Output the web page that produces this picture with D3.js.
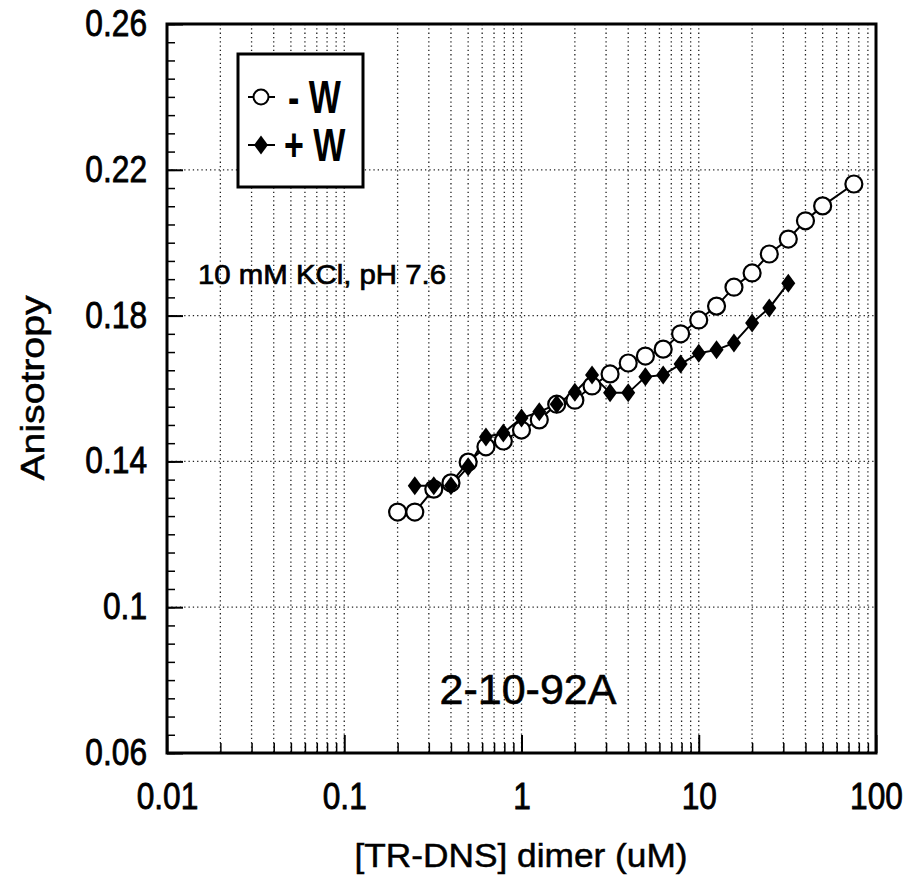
<!DOCTYPE html>
<html>
<head>
<meta charset="utf-8">
<script src="https://cdn.jsdelivr.net/npm/d3@7"></script>
<style>
  body { margin: 0; background: #fff; }
  svg { display: block; font-family: "Liberation Sans", Arial, Helvetica, sans-serif; }
</style>
</head>
<body>
<svg id="chart" width="909" height="876"></svg>
<script>
// data
const concMinusW = [0.2, 0.25, 0.32, 0.4, 0.5, 0.63, 0.79, 1.0, 1.26, 1.58, 2.0, 2.5, 3.16, 4.0, 5.0, 6.3, 7.9, 10, 12.6, 15.8, 20, 25, 32, 40, 50, 75];
const anisoMinusW = [0.1261, 0.1261, 0.1324, 0.1341, 0.1398, 0.1440, 0.1456, 0.1486, 0.1514, 0.1557, 0.1568, 0.1607, 0.1640, 0.1670, 0.1689, 0.1708, 0.1750, 0.1788, 0.1826, 0.1878, 0.1917, 0.1969, 0.2010, 0.2060, 0.2101, 0.2161];

const concPlusW = [0.25, 0.32, 0.4, 0.5, 0.63, 0.79, 1.0, 1.26, 1.58, 2.0, 2.5, 3.16, 4.0, 5.0, 6.3, 7.9, 10, 12.6, 15.8, 20, 25, 32];
const anisoPlusW = [0.1333, 0.1333, 0.1333, 0.1385, 0.1467, 0.1478, 0.1519, 0.1536, 0.1557, 0.1590, 0.1637, 0.1588, 0.1588, 0.1632, 0.1637, 0.1667, 0.1697, 0.1706, 0.1725, 0.1780, 0.1821, 0.1889];

const xTickValues = [0.01, 0.1, 1, 10, 100];
const xTickLabels = ["0.01", "0.1", "1", "10", "100"];
const yTickValues = [0.06, 0.1, 0.14, 0.18, 0.22, 0.26];
const yTickLabels = ["0.06", "0.1", "0.14", "0.18", "0.22", "0.26"];
const legendLabels = ["- W", "+ W"];

const svg = d3.select("#chart");
const margin = { left: 167, top: 24, right: 876, bottom: 753 };

const x = d3.scaleLog().domain([0.01, 100]).range([margin.left, margin.right]);
const y = d3.scaleLinear().domain([0.06, 0.26]).range([margin.bottom, margin.top]);

// minor log positions 0.02..0.09, 0.2..0.9 ...
const xMinor = [];
for (let e = -2; e < 2; e++) {
  for (let m = 2; m <= 9; m++) xMinor.push(m * Math.pow(10, e));
}
const xGrid = xMinor.concat([0.1, 1, 10]);
const yMinor = d3.range(0, 41).map(i => 0.06 + i * 0.005);

// squeeze labels a bit, the scan font is narrower than Arial
function narrow(sel, k) {
  sel.each(function() {
    const w = this.getComputedTextLength();
    d3.select(this).attr("textLength", w * k).attr("lengthAdjust", "spacingAndGlyphs");
  });
}

const grid = svg.append("g").attr("class", "grid");

grid.selectAll("line.vg")
  .data(xGrid)
  .enter().append("line")
  .attr("class", "vg")
  .attr("x1", d => x(d)).attr("x2", d => x(d))
  .attr("y1", margin.top).attr("y2", margin.bottom)
  .attr("stroke", "#222")
  .attr("stroke-width", 1.3)
  .attr("stroke-dasharray", "1.3,3");

grid.selectAll("line.hg")
  .data(yTickValues.slice(1, -1))
  .enter().append("line")
  .attr("class", "hg")
  .attr("x1", margin.left).attr("x2", margin.right)
  .attr("y1", d => y(d)).attr("y2", d => y(d))
  .attr("stroke", "#222")
  .attr("stroke-width", 1.3)
  .attr("stroke-dasharray", "1.3,3");

// inside ticks
svg.append("g")
  .attr("transform", `translate(0,${margin.bottom})`)
  .call(d3.axisBottom(x).tickValues(xMinor).tickSize(-10).tickFormat(""))
  .call(g => g.select(".domain").remove())
  .call(g => g.selectAll("line").attr("stroke-width", 1.5));

svg.append("g")
  .attr("transform", `translate(0,${margin.bottom})`)
  .call(d3.axisBottom(x).tickValues(xTickValues).tickSize(-18).tickPadding(30).tickFormat((d, i) => xTickLabels[i]))
  .call(g => g.select(".domain").remove())
  .call(g => g.selectAll("line").attr("stroke-width", 2))
  .call(g => g.selectAll("text")
    .attr("font-size", 36)
    .attr("fill", "#000")
    .attr("stroke", "#000").attr("stroke-width", 0.8)
    .attr("font-family", "'Liberation Sans', Arial, sans-serif")
    .call(narrow, 0.88));

svg.append("g")
  .attr("transform", `translate(${margin.left},0)`)
  .call(d3.axisLeft(y).tickValues(yMinor).tickSize(-8).tickFormat(""))
  .call(g => g.select(".domain").remove())
  .call(g => g.selectAll("line").attr("stroke-width", 1.5));

svg.append("g")
  .attr("transform", `translate(${margin.left},0)`)
  .call(d3.axisLeft(y).tickValues(yTickValues).tickSize(-16).tickPadding(20).tickFormat((d, i) => yTickLabels[i]))
  .call(g => g.select(".domain").remove())
  .call(g => g.selectAll("line").attr("stroke-width", 2))
  .call(g => g.selectAll("text")
    .attr("font-size", 36)
    .attr("fill", "#000")
    .attr("stroke", "#000").attr("stroke-width", 0.8)
    .attr("font-family", "'Liberation Sans', Arial, sans-serif")
    .call(narrow, 0.88));

// frame
svg.append("rect")
  .attr("x", margin.left).attr("y", margin.top)
  .attr("width", margin.right - margin.left)
  .attr("height", margin.bottom - margin.top)
  .attr("fill", "none")
  .attr("stroke", "#000")
  .attr("stroke-width", 3);

// series
const minusW = concMinusW.map((c, i) => ({ c, a: anisoMinusW[i] }));
const plusW = concPlusW.map((c, i) => ({ c, a: anisoPlusW[i] }));
const line = d3.line().x(d => x(d.c)).y(d => y(d.a));

svg.append("path").datum(minusW)
  .attr("d", line).attr("fill", "none").attr("stroke", "#000").attr("stroke-width", 2);
svg.append("path").datum(plusW)
  .attr("d", line).attr("fill", "none").attr("stroke", "#000").attr("stroke-width", 2);

svg.selectAll("circle.mw")
  .data(minusW)
  .enter().append("circle")
  .attr("class", "mw")
  .attr("cx", d => x(d.c)).attr("cy", d => y(d.a))
  .attr("r", 8.5)
  .attr("fill", "#fff")
  .attr("stroke", "#000")
  .attr("stroke-width", 2.2);

const diamond = "M0,-9.5 L7,0 L0,9.5 L-7,0 Z";
svg.selectAll("path.pw")
  .data(plusW)
  .enter().append("path")
  .attr("class", "pw")
  .attr("transform", d => `translate(${x(d.c)},${y(d.a)})`)
  .attr("d", diamond)
  .attr("fill", "#000");

// legend
const legend = svg.append("g");
legend.append("rect")
  .attr("x", 238).attr("y", 54).attr("width", 125).attr("height", 133)
  .attr("fill", "#fff").attr("stroke", "#000").attr("stroke-width", 3);

const legendY = [97, 145];
legendLabels.forEach((lab, i) => {
  legend.append("line")
    .attr("x1", 248).attr("x2", 275)
    .attr("y1", legendY[i]).attr("y2", legendY[i])
    .attr("stroke", "#000").attr("stroke-width", 2);
  if (i === 0) {
    legend.append("circle").attr("cx", 261).attr("cy", legendY[i]).attr("r", 7.5)
      .attr("fill", "#fff").attr("stroke", "#000").attr("stroke-width", 2);
  } else {
    legend.append("path").attr("transform", `translate(261,${legendY[i]})`)
      .attr("d", diamond).attr("fill", "#000");
  }
  legend.append("text")
    .attr("transform", `translate(${i === 0 ? 288 : 284},${legendY[i] + 16}) scale(0.74,1)`)
    .attr("font-size", 46)
    .attr("font-weight", "bold")
    .text(lab);
});

// annotations
svg.append("text")
  .attr("x", 198).attr("y", 284)
  .attr("font-size", 28)
  .attr("textLength", 248)
  .attr("lengthAdjust", "spacingAndGlyphs")
  .attr("stroke", "#000").attr("stroke-width", 0.7)
  .text("10 mM KCl, pH 7.6");

svg.append("text")
  .attr("x", 528).attr("y", 704)
  .attr("text-anchor", "middle")
  .attr("font-size", 43)
  .attr("stroke", "#000").attr("stroke-width", 0.6)
  .text("2-10-92A");

// axis titles
svg.append("text")
  .attr("x", 521).attr("y", 867)
  .attr("text-anchor", "middle")
  .attr("font-size", 34)
  .attr("textLength", 333)
  .attr("lengthAdjust", "spacingAndGlyphs")
  .attr("stroke", "#000").attr("stroke-width", 0.5)
  .text("[TR-DNS] dimer (uM)");

svg.append("text")
  .attr("transform", "translate(44,388) rotate(-90)")
  .attr("text-anchor", "middle")
  .attr("font-size", 34)
  .attr("textLength", 185)
  .attr("lengthAdjust", "spacingAndGlyphs")
  .attr("stroke", "#000").attr("stroke-width", 0.5)
  .text("Anisotropy");
</script>
</body>
</html>
